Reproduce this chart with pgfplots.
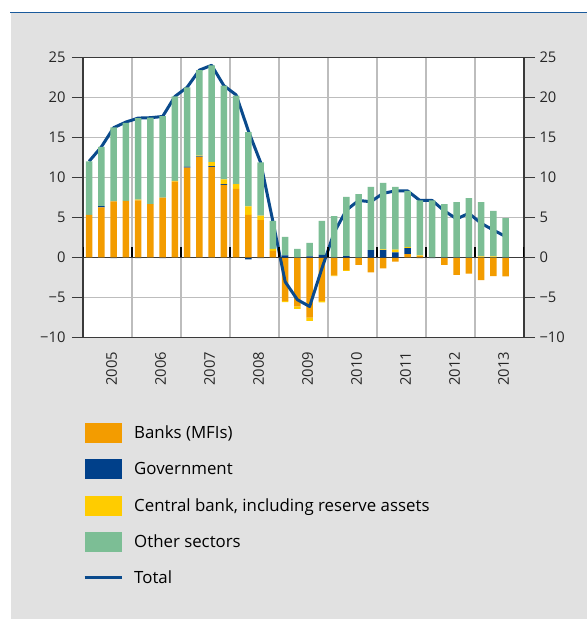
\documentclass[border=0pt]{standalone}
\usepackage{pgfplots}
\pgfplotsset{compat=1.18}
\usepackage{pgfplotstable}
\usepackage{fontspec}
\setmainfont{Open Sans}
\definecolor{cOrange}{HTML}{F39C00}
\definecolor{cNavy}{HTML}{00408A}
\definecolor{cYellow}{HTML}{FFCC00}
\definecolor{cGreen}{HTML}{7CBE95}
\definecolor{cLine}{HTML}{0A4A8C}
\definecolor{bgGray}{HTML}{E1E1E1}
\definecolor{gridGray}{HTML}{BDBDBD}
\definecolor{axGray}{HTML}{3A3A3A}
\definecolor{topBlue}{HTML}{1A5A9C}

\pgfplotstableread{
x    Bp    Gp    Cp    O     Bn     Gn     Cn     T
0.5  5.3   0     0     6.7   0      0      0      12.0
1.5  6.25  0.15  0     7.4   0      0      0      13.8
2.5  7.0   0     0     9.25  0      -0.1   0      16.2
3.5  7.05  0     0     9.75  0      -0.05  0      16.9
4.5  7.1   0     0.1   10.2  0      -0.1   0      17.4
5.5  6.65  0     0     10.8  0      0      0      17.45
6.5  7.45  0     0     10.2  0      -0.1   0      17.6
7.5  9.45  0     0.1   10.55 0      0      0      20.1
8.5  11.2  0.12  0     9.93  0      0      0      21.25
9.5  12.55 0.08  0.07  10.7  0      0      0      23.4
10.5 11.3  0.1   0.5   12.1  0      0      0      24.0
11.5 9.05  0.1   0.6   11.7  0      0      0      21.45
12.5 8.55  0     0.6   11.05 0      0      0      20.3
13.5 5.3   0     1.05  9.3   0      -0.25  0      15.8
14.5 4.65  0     0.55  6.65  0      -0.1   0      11.85
15.5 0.8   0     0.25  3.5   0      0      0      4.5
16.5 0     0.25  0     2.3   -5.45  0      -0.15  -3.05
17.5 0     0     0     1.05  -6.15  0      -0.3   -5.3
18.5 0     0.12  0     1.68  -7.55  0      -0.4   -6.15
19.5 0     0.3   0     4.25  -5.45  0      -0.2   -1.4
20.5 0     0     0     5.15  -2.25  0      -0.1   3.1
21.5 0     0.15  0     7.4   -1.6   0      -0.1   5.9
22.5 0     0     0     7.9   -0.95  0      0      7.1
23.5 0     0.9   0     7.9   -1.9   0      0      6.95
24.5 0     0.9   0.1   8.3   -1.4   0      0      8.0
25.5 0     0.6   0.35  7.85  -0.55  0      0      8.3
26.5 0.4   0.75  0.12  7.03  0      0      0      8.3
27.5 0.15  0     0.1   6.85  0      -0.1   0      7.1
28.5 0     0     0     7.1   0      -0.1   0      7.1
29.5 0     0     0     6.65  -0.95  0      0      5.8
30.5 0     0     0     6.9   -2.2   0      0      4.8
31.5 0     0     0     7.4   -2.05  0      0      5.5
32.5 0     0     0.1   6.8   -2.85  0      0      4.25
33.5 0     0     0.1   5.7   -2.35  0      0      3.4
34.5 0     0     0     4.9   -2.4   0      0      2.6
}\data

\pgfplotstableread{
x   y
0   1.3
4   1.3
8   1.3
12  1.3
16  1.3
20  1.3
24  1.3
28  1.3
32  1.3
36  1.3
}\yearticks

\begin{document}
\begin{tikzpicture}
\useasboundingbox (0,0) rectangle (587bp,619bp);
\fill[bgGray] (11bp,0) rectangle (587bp,605.8bp);
\draw[topBlue, line width=1.6bp] (10bp,606.5bp) -- (587bp,606.5bp);

\pgfplotsset{
  base/.style={
    at={(83bp,281.7bp)}, anchor=south west,
    scale only axis, width=441bp, height=280bp,
    xmin=0, xmax=36, ymin=-10, ymax=25,
    ybar stacked, bar width=0.55,
    ytick={-10,-5,...,25},
    yticklabels={−10,−5,0,5,10,15,20,25},
    tick align=outside, major tick length=11bp,
    y tick style={color=axGray, line width=1bp},
    tick label style={font=\fontsize{14.8}{17}\selectfont, color=black!85},
  },
}

% negative parts, background, grid, left labels
\begin{axis}[base,
  axis background/.style={fill=white},
  xtick={2,6,...,34},
  xticklabels={2005,2006,2007,2008,2009,2010,2011,2012,2013},
  xticklabel style={rotate=90, anchor=east, yshift=-4bp},
  x tick style={draw=none},
  minor xtick={4,8,...,32},
  xminorgrids, ymajorgrids,
  grid style={color=gridGray, line width=1.2bp},
  minor grid style={color=gridGray, line width=1.2bp},
  ytick pos=left,
  yticklabel style={xshift=-3bp},
  axis line style={axGray, line width=1.2bp},
]
\addplot[fill=cOrange, draw=none] table[x=x, y=Bn] {\data};
\addplot[fill=cNavy, draw=none] table[x=x, y=Gn] {\data};
\addplot[fill=cYellow, draw=none] table[x=x, y=Cn] {\data};
\end{axis}

% positive parts, line, right labels, legend
\begin{axis}[base,
  axis x line=none,
  axis y line*=right,
  y axis line style={axGray, line width=1.2bp},
  yticklabel style={xshift=1bp},
  legend style={at={(0,-0.305)}, anchor=north west, draw=none, fill=none,
    font=\fontsize{16.9}{19}\selectfont, row sep=16.4bp, inner sep=0pt,
    /tikz/every odd column/.append style={column sep=9bp}},
  legend cell align=left,
]
\addplot[fill=cOrange, draw=none,
  legend image code/.code={\fill[cOrange] (0bp,-10bp) rectangle (37bp,10bp);}]
  table[x=x, y=Bp] {\data};
\addlegendentry{Banks (MFIs)}
\addplot[fill=cNavy, draw=none,
  legend image code/.code={\fill[cNavy] (0bp,-10bp) rectangle (37bp,10bp);}]
  table[x=x, y=Gp] {\data};
\addlegendentry{Government}
\addplot[fill=cYellow, draw=none,
  legend image code/.code={\fill[cYellow] (0bp,-10bp) rectangle (37bp,10bp);}]
  table[x=x, y=Cp] {\data};
\addlegendentry{Central bank, including reserve assets}
\addplot[fill=cGreen, draw=none,
  legend image code/.code={\fill[cGreen] (0bp,-10bp) rectangle (37bp,10bp);}]
  table[x=x, y=O] {\data};
\addlegendentry{Other sectors}
\addplot[forget plot, stack plots=false, sharp plot, no marks, color=axGray, line width=1.4bp]
  coordinates {(0,0) (36,0)};
\addplot[forget plot, stack plots=false, ycomb, no marks, color=black, line width=1.2bp]
  table[x=x, y=y] {\yearticks};
\addplot[stack plots=false, sharp plot, no marks, color=cLine, line width=3bp, line join=round,
  legend image code/.code={\draw[cLine, line width=3bp] (0bp,0bp) -- (37bp,0bp);}]
  table[x=x, y=T] {\data};
\addlegendentry{Total}
\end{axis}
\end{tikzpicture}
\end{document}
